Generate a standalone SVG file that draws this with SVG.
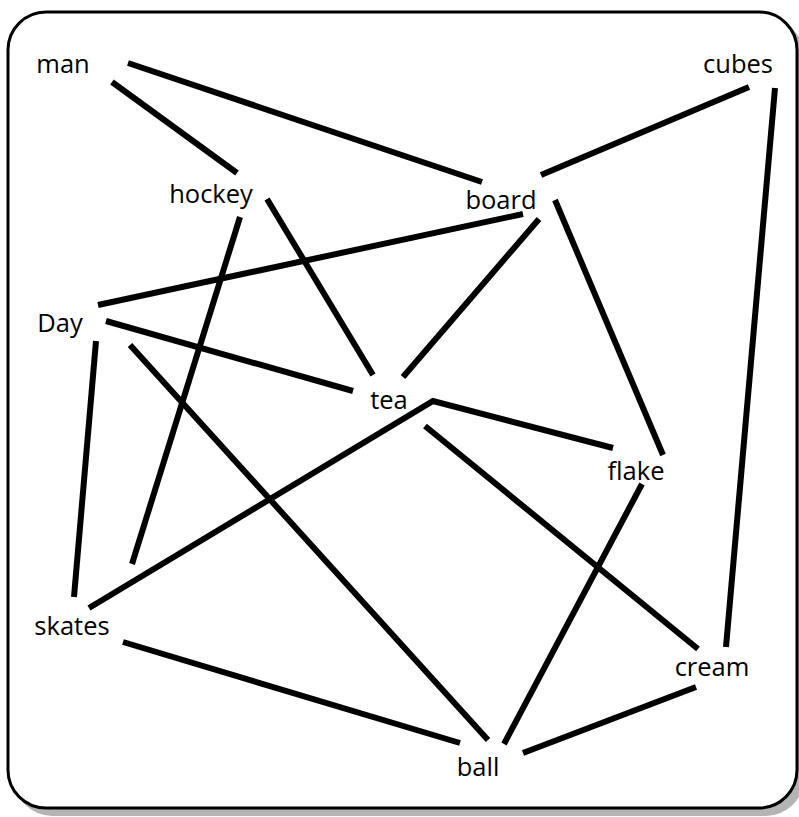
<svg xmlns="http://www.w3.org/2000/svg" width="799" height="817" viewBox="0 0 799 817">
<style>
.lbl{font-family:"Open Sans","Noto Sans","Liberation Sans",sans-serif;font-size:25.5px;fill:#000;text-anchor:middle}
.e{stroke:#000;stroke-width:6;fill:none;stroke-linecap:butt}
</style>
<rect x="0" y="0" width="799" height="817" fill="#fff"/>
<rect x="14" y="18" width="790" height="798" rx="38" ry="38" fill="#b4b4b4"/>
<rect x="8" y="12" width="789" height="796" rx="38" ry="38" fill="#fff" stroke="#000" stroke-width="3"/>
<g id="connectors">
<line class="e" x1="128" y1="63" x2="482" y2="182"/>
<line class="e" x1="112" y1="82" x2="237" y2="173"/>
<line class="e" x1="749" y1="87" x2="541" y2="175"/>
<line class="e" x1="775" y1="88" x2="726" y2="647"/>
<line class="e" x1="523" y1="214" x2="98" y2="305"/>
<line class="e" x1="539" y1="219" x2="403" y2="377"/>
<line class="e" x1="555" y1="200" x2="663" y2="455"/>
<line class="e" x1="267" y1="199" x2="373" y2="375"/>
<line class="e" x1="240" y1="217" x2="132" y2="564"/>
<line class="e" x1="106" y1="321" x2="353" y2="391"/>
<line class="e" x1="96" y1="341" x2="74" y2="597"/>
<line class="e" x1="130" y1="345" x2="488" y2="740"/>
<polyline class="e" points="89,608 433,401 613,448"/>
<line class="e" x1="425" y1="426" x2="698" y2="649"/>
<line class="e" x1="642" y1="484" x2="504" y2="744"/>
<line class="e" x1="123" y1="642" x2="460" y2="743"/>
<line class="e" x1="696" y1="687" x2="523" y2="753"/>
</g>
<g id="man"><text class="lbl" x="63" y="73">man</text></g>
<g id="cubes"><text class="lbl" x="738" y="73">cubes</text></g>
<g id="hockey"><text class="lbl" x="211" y="203">hockey</text></g>
<g id="board"><text class="lbl" x="501" y="209">board</text></g>
<g id="Day"><text class="lbl" x="60" y="332">Day</text></g>
<g id="tea"><text class="lbl" x="389" y="409">tea</text></g>
<g id="flake"><text class="lbl" x="636" y="480">flake</text></g>
<g id="skates"><text class="lbl" x="72" y="635">skates</text></g>
<g id="cream"><text class="lbl" x="712" y="676">cream</text></g>
<g id="ball"><text class="lbl" x="478" y="776">ball</text></g>
</svg>
